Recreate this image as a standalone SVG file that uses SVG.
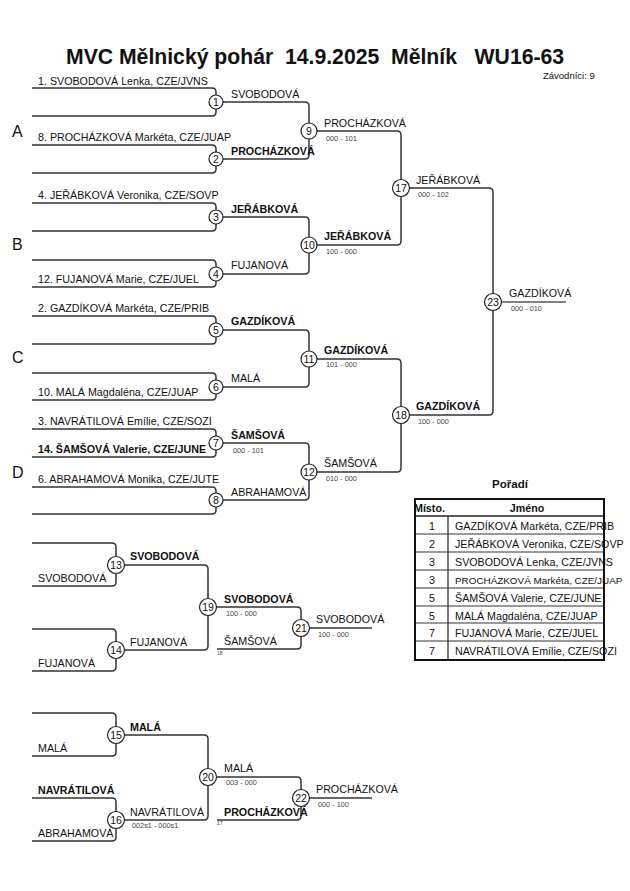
<svg xmlns="http://www.w3.org/2000/svg" width="630" height="891" viewBox="0 0 630 891">
<style>
.ln{fill:none;stroke:#333;stroke-width:1.5}
.lg{fill:none;stroke:#808080;stroke-width:2}
.c{fill:#fff;stroke:#222;stroke-width:1.2}
text{font-family:"Liberation Sans",Arial,sans-serif;font-size:10.7px;fill:#111}
.b{font-weight:bold}
.s{font-size:7.3px;fill:#444}
.tiny{font-size:5px;fill:#444}
.n{text-anchor:middle;font-size:10.5px}
.grp{font-size:16px}
.tb{fill:none;stroke:#111;stroke-width:2}
.tl{stroke:#777;stroke-width:1.5}
</style>
<rect width="630" height="891" fill="#fff"/>
<text x="66" y="64" class="b" style="font-size:21.2px" xml:space="preserve">MVC Mělnický pohár  14.9.2025  Mělník   WU16-63</text>
<text x="543" y="79" style="font-size:9.5px">Závodníci: 9</text>
<g id="groups">
<text x="12" y="137" class="grp">A</text>
<text x="12" y="250" class="grp">B</text>
<text x="12" y="363" class="grp">C</text>
<text x="12" y="478" class="grp">D</text>
</g>
<g id="connectors">
<path class="ln" d="M32,88 H212 Q216,88 216,92 V112 Q216,116 212,116 H32"/>
<path class="ln" d="M32,145 H212 Q216,145 216,149 V169 Q216,173 212,173 H32"/>
<path class="ln" d="M32,203 H212 Q216,203 216,207 V227 Q216,231 212,231 H32"/>
<path class="ln" d="M32,260 H212 Q216,260 216,264 V283 Q216,287 212,287 H32"/>
<path class="ln" d="M32,316 H212 Q216,316 216,320 V340 Q216,344 212,344 H32"/>
<path class="ln" d="M32,373 H212 Q216,373 216,377 V396 Q216,400 212,400 H32"/>
<path class="ln" d="M32,429 H212 Q216,429 216,433 V453 Q216,457 212,457 H32"/>
<path class="ln" d="M32,487 H212 Q216,487 216,491 V510 Q216,514 212,514 H32"/>
<path class="ln" d="M216,102 H305 Q309,102 309,106 V155 Q309,159 305,159 H216"/>
<path class="ln" d="M216,217 H305 Q309,217 309,221 V270 Q309,274 305,274 H216"/>
<path class="ln" d="M216,330 H305 Q309,330 309,334 V383 Q309,387 305,387 H216"/>
<path class="ln" d="M216,443 H305 Q309,443 309,447 V496 Q309,500 305,500 H216"/>
<path class="ln" d="M309,131 H397 Q401,131 401,135 V241 Q401,245 397,245 H309"/>
<path class="ln" d="M309,359 H397 Q401,359 401,363 V468 Q401,472 397,472 H309"/>
<path class="ln" d="M401,188 H489 Q493,188 493,192 V411 Q493,415 489,415 H401"/>
<path class="lg" d="M493,302 H566"/>
<path class="ln" d="M32,543 H112 Q116,543 116,547 V582 Q116,586 112,586 H32"/>
<path class="ln" d="M32,629 H112 Q116,629 116,633 V667 Q116,671 112,671 H32"/>
<path class="ln" d="M32,713 H112 Q116,713 116,717 V752 Q116,756 112,756 H32"/>
<path class="ln" d="M32,798 H112 Q116,798 116,802 V837 Q116,841 112,841 H32"/>
<path class="ln" d="M116,565 H204 Q208,565 208,569 V646 Q208,650 204,650 H116"/>
<path class="ln" d="M116,735 H204 Q208,735 208,739 V816 Q208,820 204,820 H116"/>
<path class="ln" d="M208,607 H297 Q301,607 301,611 V645 Q301,649 297,649 H217"/>
<path class="ln" d="M208,777 H297 Q301,777 301,781 V816 Q301,820 297,820 H217"/>
<path class="ln" d="M301,628 H372"/>
<path class="ln" d="M301,798 H372"/>
</g>
<g id="m1"><text x="38" y="85">1. SVOBODOVÁ Lenka, CZE/JVNS</text><circle class="c" cx="216" cy="102" r="7"/><text x="216" y="106" class="n">1</text><text x="231" y="98">SVOBODOVÁ</text></g>
<g id="m2"><text x="38" y="141">8. PROCHÁZKOVÁ Markéta, CZE/JUAP</text><circle class="c" cx="216" cy="159" r="7"/><text x="216" y="163" class="n">2</text><text x="231" y="155" class="b">PROCHÁZKOVÁ</text></g>
<g id="m3"><text x="38" y="199">4. JEŘÁBKOVÁ Veronika, CZE/SOVP</text><circle class="c" cx="216" cy="217" r="7"/><text x="216" y="221" class="n">3</text><text x="231" y="213" class="b">JEŘÁBKOVÁ</text></g>
<g id="m4"><text x="38" y="283">12. FUJANOVÁ Marie, CZE/JUEL</text><circle class="c" cx="216" cy="274" r="7"/><text x="216" y="278" class="n">4</text><text x="231" y="269">FUJANOVÁ</text></g>
<g id="m5"><text x="38" y="312">2. GAZDÍKOVÁ Markéta, CZE/PRIB</text><circle class="c" cx="216" cy="330" r="7"/><text x="216" y="334" class="n">5</text><text x="231" y="325" class="b">GAZDÍKOVÁ</text></g>
<g id="m6"><text x="38" y="396">10. MALÁ Magdaléna, CZE/JUAP</text><circle class="c" cx="216" cy="387" r="7"/><text x="216" y="391" class="n">6</text><text x="231" y="382">MALÁ</text></g>
<g id="m7"><text x="38" y="425">3. NAVRÁTILOVÁ Emílie, CZE/SOZI</text><text x="38" y="453" class="b">14. ŠAMŠOVÁ Valerie, CZE/JUNE</text><circle class="c" cx="216" cy="443" r="7"/><text x="216" y="447" class="n">7</text><text x="231" y="439" class="b">ŠAMŠOVÁ</text><text x="233" y="453" class="s">000 - 101</text></g>
<g id="m8"><text x="38" y="483">6. ABRAHAMOVÁ Monika, CZE/JUTE</text><circle class="c" cx="216" cy="500" r="7"/><text x="216" y="504" class="n">8</text><text x="231" y="496">ABRAHAMOVÁ</text></g>
<g id="m9"><circle class="c" cx="309" cy="131" r="8"/><text x="309" y="135" class="n">9</text><text x="324" y="127">PROCHÁZKOVÁ</text><text x="326" y="141" class="s">000 - 101</text></g>
<g id="m10"><circle class="c" cx="309" cy="245" r="8"/><text x="309" y="249" class="n">10</text><text x="324" y="240" class="b">JEŘÁBKOVÁ</text><text x="326" y="254" class="s">100 - 000</text></g>
<g id="m11"><circle class="c" cx="309" cy="359" r="8"/><text x="309" y="363" class="n">11</text><text x="324" y="354" class="b">GAZDÍKOVÁ</text><text x="326" y="367" class="s">101 - 000</text></g>
<g id="m12"><circle class="c" cx="309" cy="472" r="8"/><text x="309" y="476" class="n">12</text><text x="324" y="467">ŠAMŠOVÁ</text><text x="326" y="481" class="s">010 - 000</text></g>
<g id="m17"><circle class="c" cx="401" cy="188" r="8.5"/><text x="401" y="192" class="n">17</text><text x="416" y="184">JEŘÁBKOVÁ</text><text x="418" y="197" class="s">000 - 102</text></g>
<g id="m18"><circle class="c" cx="401" cy="415" r="8.5"/><text x="401" y="419" class="n">18</text><text x="416" y="410" class="b">GAZDÍKOVÁ</text><text x="418" y="424" class="s">100 - 000</text></g>
<g id="m23"><circle class="c" cx="493" cy="302" r="8.5"/><text x="493" y="306" class="n">23</text><text x="509" y="297">GAZDÍKOVÁ</text><text x="511" y="311" class="s">000 - 010</text></g>
<g id="m13"><text x="38" y="582">SVOBODOVÁ</text><circle class="c" cx="116" cy="565" r="8.5"/><text x="116" y="569" class="n">13</text><text x="130" y="560" class="b">SVOBODOVÁ</text></g>
<g id="m14"><text x="38" y="667">FUJANOVÁ</text><circle class="c" cx="116" cy="650" r="8.5"/><text x="116" y="654" class="n">14</text><text x="130" y="646">FUJANOVÁ</text></g>
<g id="m15"><text x="38" y="752">MALÁ</text><circle class="c" cx="116" cy="735" r="8.5"/><text x="116" y="739" class="n">15</text><text x="130" y="731" class="b">MALÁ</text></g>
<g id="m16"><text x="38" y="794" class="b">NAVRÁTILOVÁ</text><text x="38" y="837">ABRAHAMOVÁ</text><circle class="c" cx="116" cy="820" r="8.5"/><text x="116" y="824" class="n">16</text><text x="130" y="816">NAVRÁTILOVÁ</text><text x="132" y="828" class="s">002s1 - 000s1</text></g>
<g id="m19"><circle class="c" cx="208" cy="607" r="8.5"/><text x="208" y="611" class="n">19</text><text x="224" y="603" class="b">SVOBODOVÁ</text><text x="226" y="616" class="s">100 - 000</text><text x="224" y="645">ŠAMŠOVÁ</text><text x="217" y="655" class="tiny">18</text></g>
<g id="m20"><circle class="c" cx="208" cy="777" r="8.5"/><text x="208" y="781" class="n">20</text><text x="224" y="772">MALÁ</text><text x="226" y="785" class="s">003 - 000</text><text x="224" y="816" class="b">PROCHÁZKOVÁ</text><text x="217" y="825" class="tiny">17</text></g>
<g id="m21"><circle class="c" cx="301" cy="628" r="8.5"/><text x="301" y="632" class="n">21</text><text x="316" y="623">SVOBODOVÁ</text><text x="318" y="637" class="s">100 - 000</text></g>
<g id="m22"><circle class="c" cx="301" cy="798" r="8.5"/><text x="301" y="802" class="n">22</text><text x="316" y="793">PROCHÁZKOVÁ</text><text x="318" y="807" class="s">000 - 100</text></g>
<g id="ranking">
<text x="510" y="488" class="b" style="text-anchor:middle;font-size:11.5px">Pořadí</text>
<text x="414" y="512" class="b">Místo.</text>
<text x="527" y="512" class="b" style="text-anchor:middle">Jméno</text>
<g style="text-anchor:middle"><text x="432" y="530">1</text><text x="432" y="548">2</text><text x="432" y="566">3</text><text x="432" y="584">3</text><text x="432" y="602">5</text><text x="432" y="620">5</text><text x="432" y="637">7</text><text x="432" y="655">7</text></g>
<text x="455" y="530">GAZDÍKOVÁ Markéta, CZE/PRIB</text>
<text x="455" y="548">JEŘÁBKOVÁ Veronika, CZE/SOVP</text>
<text x="455" y="566">SVOBODOVÁ Lenka, CZE/JVNS</text>
<text x="455" y="584" style="font-size:9.9px">PROCHÁZKOVÁ Markéta, CZE/JUAP</text>
<text x="455" y="602">ŠAMŠOVÁ Valerie, CZE/JUNE</text>
<text x="455" y="620">MALÁ Magdaléna, CZE/JUAP</text>
<text x="455" y="637">FUJANOVÁ Marie, CZE/JUEL</text>
<text x="455" y="655">NAVRÁTILOVÁ Emílie, CZE/SOZI</text>
<line class="tl" x1="415" y1="534" x2="604" y2="534"/>
<line class="tl" x1="415" y1="552" x2="604" y2="552"/>
<line class="tl" x1="415" y1="570" x2="604" y2="570"/>
<line class="tl" x1="415" y1="588" x2="604" y2="588"/>
<line class="tl" x1="415" y1="606" x2="604" y2="606"/>
<line class="tl" x1="415" y1="623" x2="604" y2="623"/>
<line class="tl" x1="415" y1="641" x2="604" y2="641"/>
<line x1="415" y1="516" x2="604" y2="516" stroke="#222" stroke-width="1.5"/>
<line x1="448" y1="516" x2="448" y2="660" stroke="#222" stroke-width="1.2"/>
<rect class="tb" x="415" y="499" width="189" height="161"/>
</g>
</svg>
